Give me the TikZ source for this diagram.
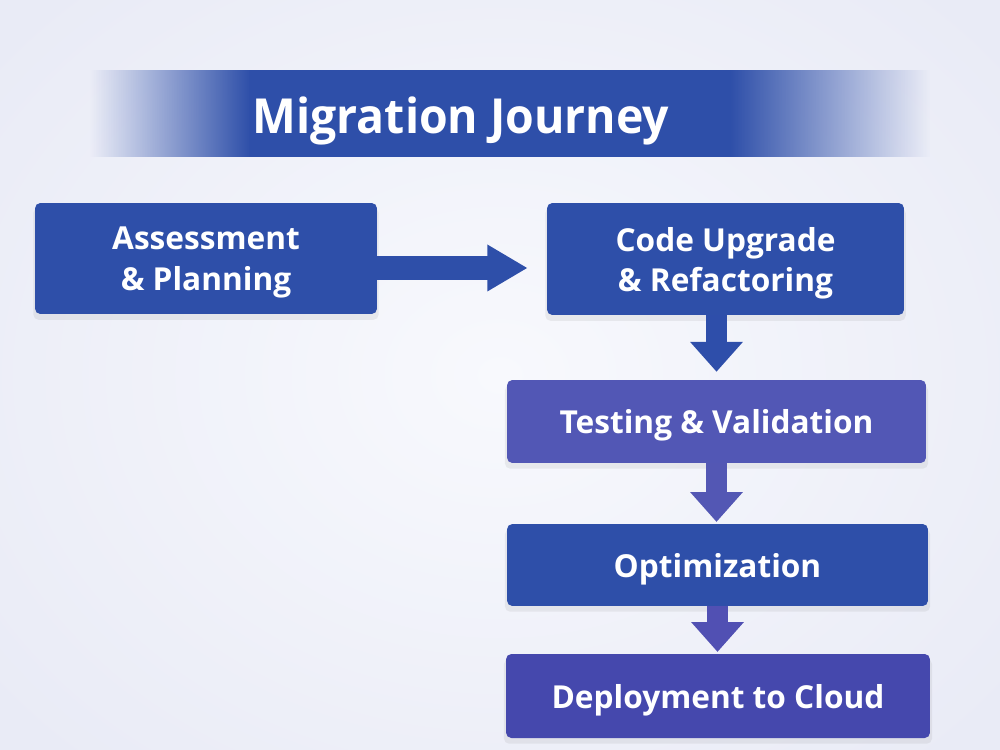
\documentclass[tikz,border=0pt]{standalone}
\usepackage{fontspec}
\setmainfont{Open Sans}
\newfontfamily\titlefont[FakeStretch=0.96]{Open Sans}
\usetikzlibrary{arrows.meta,shadows,fadings}
\definecolor{bgin}{HTML}{F8F9FD}
\definecolor{bgout}{HTML}{E9EBF6}
\definecolor{navy}{HTML}{2E4FA9}
\definecolor{violet}{HTML}{5257B5}
\definecolor{indigo}{HTML}{4548AD}
\definecolor{arrowB}{HTML}{2E4EAA}
\definecolor{arrowC}{HTML}{5357B4}
\definecolor{arrowD}{HTML}{5150B3}
\newcommand\dn[1]{\raisebox{-2.3pt}[\height][\depth]{#1}}
\tikzset{
  stepbox/.style={rectangle, rounded corners=3pt, inner sep=0pt, align=center,
    text=white, font=\bfseries\fontsize{18}{23}\selectfont,
    drop shadow={opacity=0.12, shadow xshift=0pt, shadow yshift=-3pt, shadow scale=1.01}},
  harrow/.style={line width=13.6pt, -{Triangle[width=25pt,length=23pt]}, shorten >=10.8pt},
  varrow/.style={line width=12.5pt, -{Triangle[width=29pt,length=17pt]}},
  titletext/.style={text=white, font=\titlefont\bfseries\fontsize{27.5}{31}\selectfont}
}
\begin{document}
\begin{tikzpicture}[x=0.02cm,y=-0.02cm]
\useasboundingbox (0,0) rectangle (1000,750);
\shade[inner color=bgin, outer color=bgout] (-150,-150) rectangle (1150,900);
% title band
\fill[navy, path fading=west] (90,70) rectangle (250,157);
\fill[navy] (249,70) rectangle (731,157);
\fill[navy, path fading=east] (730,70) rectangle (930,157);
\node[titletext] (title) at (461,121) {Migration Journey};
% boxes
\node[stepbox, fill=navy, minimum width=6.84cm, minimum height=2.22cm] (A) at (206,258.5) {\dn{Assessment}\\\dn{\& Planning}};
\node[stepbox, fill=navy, minimum width=7.14cm, minimum height=2.24cm] (B) at (725.5,259) {\dn{Code Upgrade}\\\dn{\& Refactoring}};
\node[stepbox, fill=violet, minimum width=8.38cm, minimum height=1.66cm] (C) at (716.5,421.5) {\dn{Testing \& Validation}};
\node[stepbox, fill=navy, minimum width=8.42cm, minimum height=1.64cm] (D) at (717.5,565) {\dn{Optimization}};
\node[stepbox, fill=indigo, minimum width=8.48cm, minimum height=1.68cm] (E) at (718,696) {\dn{Deployment to Cloud}};
% connectors
\coordinate (a1) at ([yshift=-5.4pt]A.east);
\draw[harrow, navy] (a1) -- (a1 -| B.west);
\draw[varrow, arrowB, shorten >=4.5pt] (B.south -| C.north) -- (C.north);
\draw[varrow, arrowC, shorten >=1pt] (C.south) -- (C.south |- D.north);
\draw[varrow, arrowD, shorten >=1pt] (D.south) -- (D.south |- E.north);
\end{tikzpicture}
\end{document}
